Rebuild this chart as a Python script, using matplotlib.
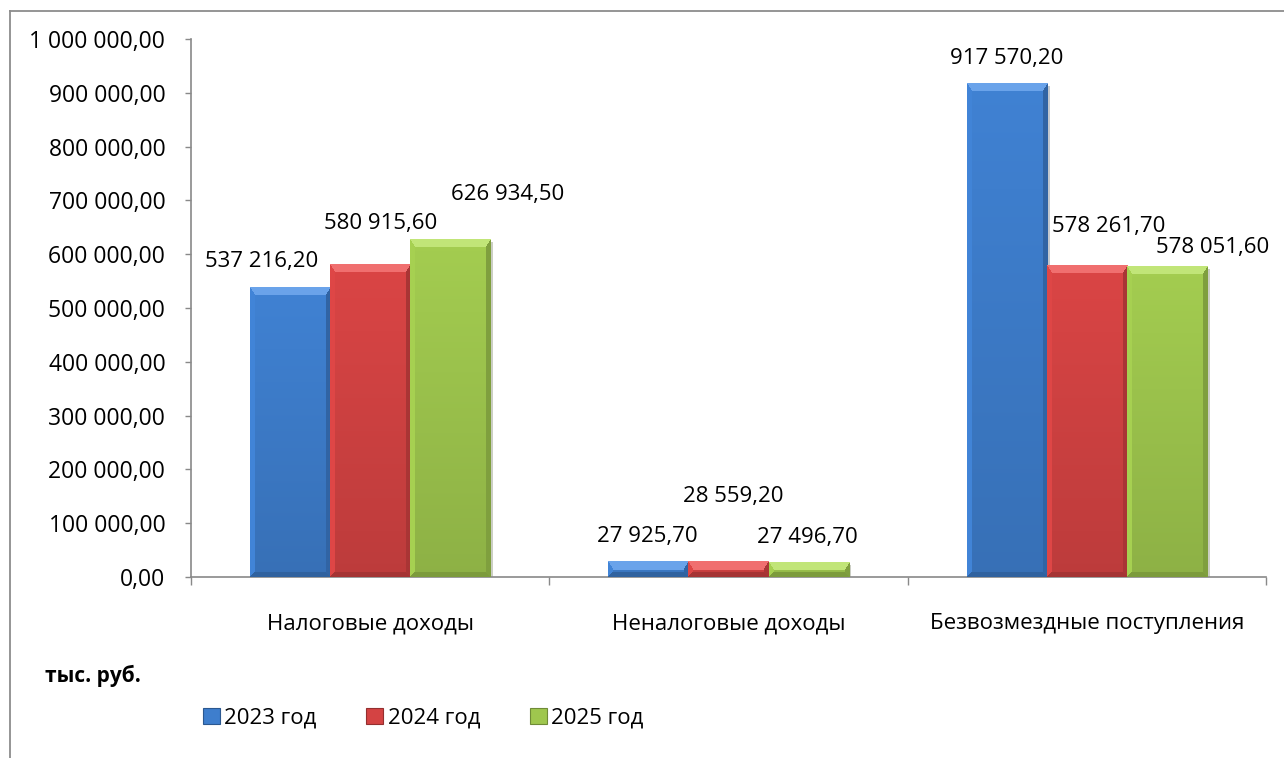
import numpy as np
import matplotlib
matplotlib.use("Agg")
import matplotlib.pyplot as plt
import matplotlib.patheffects as pe
from matplotlib.patches import Rectangle
from matplotlib.lines import Line2D
from matplotlib.colors import to_rgb

plt.rcParams['font.family'] = ['Open Sans', 'DejaVu Sans']

categories = ["Налоговые доходы", "Неналоговые доходы", "Безвозмездные поступления"]
series = ["2023 год", "2024 год", "2025 год"]
values_2023 = [537216.20, 27925.70, 917570.20]
values_2024 = [580915.60, 28559.20, 578261.70]
values_2025 = [626934.50, 27496.70, 578051.60]
yticks = [0, 100000, 200000, 300000, 400000, 500000, 600000, 700000, 800000, 900000, 1000000]
unit_label = "тыс. руб."

colors = ["#3E7ECD", "#D44343", "#9FC74E"]
# label offsets in pixels from bar top-centre, one row per series
label_offsets = [
    [(-29, 26), (-1, 25), (0, 25)],
    [(10, 41), (5, 65), (22, 39)],
    [(57, 45), (-1, 25), (46, 19)],
]


def ru(v):
    return "{:,.2f}".format(v).replace(",", " ").replace(".", ",")


def bevel(ax, rect, color):
    x0d, y0d = rect.get_x(), rect.get_y()
    x1d, y1d = x0d + rect.get_width(), y0d + rect.get_height()
    (px0, py0), (px1, py1) = ax.transData.transform([(x0d, y0d), (x1d, y1d)])
    w = max(int(round(px1 - px0)), 1)
    h = max(int(round(py1 - py0)), 1)
    base = np.array(to_rgb(color))
    # body: slight vertical gradient, lighter at the top
    fac = np.linspace(1.03, 0.89, h)[:, None, None]
    img = np.clip(np.tile(base, (h, w, 1)) * fac, 0, 1)
    rows = np.arange(h)[:, None] * np.ones((1, w))
    cols = np.ones((h, 1)) * np.arange(w)[None, :]
    tb = min(8, h / 2)
    sb = min(5, w / 2, h / 2)
    dist = np.stack([rows / tb, (w - 1 - cols) / sb, (h - 1 - rows) / sb, cols / sb])
    side = np.argmin(dist, axis=0)
    near = np.min(dist, axis=0) < 1
    white = np.ones(3)
    shades = [np.clip(base * 1.12, 0, 1) * 0.8 + white * 0.2, base * 0.8, base * 0.78,
              np.clip(base * 1.05, 0, 1)]
    for k in range(4):
        m = near & (side == k)
        img[m] = shades[k]
    ax.imshow(img, extent=(x0d, x1d, y0d, y1d), aspect='auto', zorder=3,
              interpolation='nearest')


fig = plt.figure(figsize=(12.84, 7.58), dpi=100)
ax = fig.add_axes([191 / 1284, 1 - 577 / 758, (1266 - 191) / 1284, (577 - 39) / 758])

# outer chart border (left and top edges only are inside the picture)
fig.lines.append(Line2D([10 / 1284, 10 / 1284], [0, 1 - 11 / 758], transform=fig.transFigure,
                        color="#8c8c8c", linewidth=1.3))
fig.lines.append(Line2D([10 / 1284, 1], [1 - 11 / 758, 1 - 11 / 758], transform=fig.transFigure,
                        color="#8c8c8c", linewidth=1.3))

x = np.arange(len(categories))
width = 0.2233
all_vals = [values_2023, values_2024, values_2025]

ax.set_xlim(-0.5, 2.5)
ax.set_ylim(0, 1000000)

bar_sets = []
for i, vals in enumerate(all_vals):
    bars = ax.bar(x + (i - 1) * width, vals, width, color=colors[i], zorder=2,
                  edgecolor=np.array(to_rgb(colors[i])) * 0.7, linewidth=0.6,
                  path_effects=[pe.SimplePatchShadow(offset=(2, -2), alpha=0.25), pe.Normal()])
    bar_sets.append(bars)

for i, bars in enumerate(bar_sets):
    for j, rect in enumerate(bars):
        bevel(ax, rect, colors[i])
        dx, dy = label_offsets[i][j]
        ax.annotate(ru(all_vals[i][j]),
                    (rect.get_x() + rect.get_width() / 2, rect.get_height()),
                    xytext=(dx, dy), textcoords='offset pixels',
                    ha='center', va='center', fontsize=16, color='black')

ax.set_xlim(-0.5, 2.5)
ax.set_ylim(0, 1000000)

for s in ["top", "right"]:
    ax.spines[s].set_visible(False)
for s in ["left", "bottom"]:
    ax.spines[s].set_color("#898989")
    ax.spines[s].set_linewidth(1.2)

ax.set_yticks(yticks)
ax.set_yticklabels([ru(v) for v in yticks])
ax.tick_params(axis='y', length=4.5, width=1, color="#898989", pad=14, labelsize=16.5)

ax.set_xticks([-0.5, 0.5, 1.5, 2.5])
ax.set_xticklabels([])
ax.set_xticks(x, minor=True)
ax.set_xticklabels(categories, minor=True)
ax.tick_params(axis='x', which='major', length=6, width=1, color="#898989")
ax.tick_params(axis='x', which='minor', length=0, pad=26, labelsize=16)

fig.text(45 / 1284, 1 - 676 / 758, unit_label, fontsize=15, fontweight='bold',
         ha='left', va='center')

handles = [Rectangle((0, 0), 1, 1, facecolor=c, edgecolor=np.array(to_rgb(c)) * 0.7, linewidth=0.8)
           for c in colors]
fig.legend(handles, series, ncol=3, loc='center left',
           bbox_to_anchor=(203 / 1284, 1 - 718 / 758), frameon=False, fontsize=16,
           handlelength=0.75, handleheight=0.75, handletextpad=0.2, columnspacing=2.25,
           borderaxespad=0, borderpad=0)

fig.savefig("out.png", dpi=100)
